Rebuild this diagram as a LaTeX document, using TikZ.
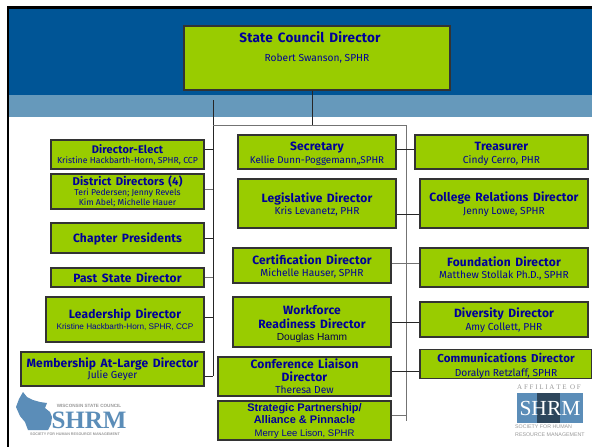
\documentclass[tikz,border=0pt]{standalone}
\usepackage{fontspec}
\setmainfont{Fira Sans}
\newfontfamily\headfont[LetterSpace=1.5,WordSpace=1.5]{Fira Sans}
\newfontfamily\plainfont{Liberation Sans}
\newfontfamily\logofont{Liberation Serif}
\definecolor{boardgreen}{HTML}{99CC00}
\definecolor{boardink}{HTML}{000099}
\definecolor{bandblue}{HTML}{005596}
\definecolor{paleblue}{HTML}{6699BB}
\definecolor{logoblue}{HTML}{5B8DB8}
\tikzset{
    orgbox/.style={draw=black!80, line width=1.1pt, fill=boardgreen, text=boardink, align=center, inner sep=0pt, font=\fontsize{10.2}{12.5}\selectfont},
    link/.style={draw=black!85, line width=0.9pt},
    palelink/.style={draw=black!55, line width=1pt},
    logotext/.style={text=black!40, inner sep=0pt},
}
\newcommand{\head}[2][12]{{\headfont\bfseries\fontsize{#1}{#1}\selectfont #2}}
\newcommand{\lift}[1][11.5pt]{\rule{0pt}{#1}}
\begin{document}
\begin{tikzpicture}[x=1pt,y=-1pt]
    \useasboundingbox (0,0) rectangle (592,447);
    % page
    \fill[white] (0,0) rectangle (592,447);
    \fill[bandblue] (8,8) rectangle (592,95);
    \fill[paleblue] (8,95) rectangle (592,117);
    \draw[black, line width=2.5pt] (8,447) -- (8,7.5) -- (592,7.5);

    % lines
    \coordinate (lefttop) at (213,100);
    \coordinate (leftend) at (213,376);
    \coordinate (corner) at (406,125);
    \coordinate (rightend) at (406,421);
    \coordinate (midjoin) at (312,125);

    % top
    \node[orgbox, minimum width=266, minimum height=64] (chair) at (317,58) {\head[13.5]{State Council Director}\hspace*{14pt}\\[6.5pt]Robert Swanson, SPHR\hspace*{14pt}\\[10.5pt]~};

    % left column
    \node[orgbox, minimum width=153, minimum height=29] (elect) at (127.5,154.5) {\head[11]{Director-Elect}\\[-2.5pt]{\fontsize{8.7}{10}\selectfont Kristine Hackbarth-Horn, SPHR, CCP}};
    \node[orgbox, minimum width=153, minimum height=35] (district) at (127.5,191.5) {\head[11.3]{District Directors (4)}\\[-3pt]{\fontsize{8.6}{10}\selectfont Teri Pedersen; Jenny Revels}\\[-2pt]{\fontsize{8.6}{10}\selectfont Kim Abel; Michelle Hauer}};
    \node[orgbox, minimum width=153, minimum height=30] (chapter) at (127.5,238) {\lift\head{Chapter Presidents}};
    \node[orgbox, minimum width=153, minimum height=19] (past) at (127.5,277.5) {\head{Past State Director}};
    \node[orgbox, minimum width=158, minimum height=45] (leader) at (125,319.5) {\head{Leadership Director}\\[-1pt]{\plainfont\fontsize{8.2}{10}\selectfont Kristine Hackbarth-Horn, SPHR, CCP}};
    \node[orgbox, minimum width=183, minimum height=34] (member) at (112.5,369) {\head{Membership At-Large Director}\\[-2pt]Julie Geyer};

    % middle column
    \node[orgbox, minimum width=158, minimum height=34] (secretary) at (317,152) {\lift[12pt]\head{Secretary}\\{\fontsize{9.8}{12}\selectfont Kellie Dunn-Poggemann,,SPHR}};
    \node[orgbox, minimum width=158, minimum height=49] (legis) at (317,203.5) {\lift\head{Legislative Director}\\Kris Levanetz, PHR};
    \node[orgbox, minimum width=158, minimum height=35] (cert) at (312,265.5) {\lift\head{Certification Director}\\Michelle Hauser, SPHR};
    \node[orgbox, minimum width=158, minimum height=50] (work) at (312,322) {\lift[13pt]\head{Workforce}\\[2pt]\head{Readiness Director}\\[-1pt]{\plainfont\color{black!50!boardink}Douglas Hamm}};
    \node[orgbox, minimum width=173, minimum height=39] (liaison) at (304.5,376.5) {\head{Conference Liaison}\\\head{Director}\\Theresa Dew};
    \node[orgbox, minimum width=173, minimum height=39, font=\plainfont\fontsize{9.5}{12.5}\selectfont] (strategic) at (304.5,420.5) {{\fontsize{11}{14}\selectfont\bfseries Strategic Partnership/}\\{\fontsize{11}{14}\selectfont\bfseries Alliance \& Pinnacle}\\Merry Lee Lison, SPHR};

    % right column
    \node[orgbox, minimum width=173, minimum height=34] (treasurer) at (501.5,152) {\lift[12pt]\head{Treasurer}\\Cindy Cerro, PHR};
    \node[orgbox, minimum width=168, minimum height=49] (college) at (504,203.5) {\lift\head{College Relations Director}\\Jenny Lowe, SPHR};
    \node[orgbox, minimum width=168, minimum height=39] (found) at (504,267.5) {\lift\head{Foundation Director}\\Matthew Stollak Ph.D., SPHR};
    \node[orgbox, minimum width=168, minimum height=35] (diverse) at (504,319.5) {\lift\head{Diversity Director}\\Amy Collett, PHR};
    \node[orgbox, minimum width=172, minimum height=24] (comms) at (506,364) {\lift[13pt]\head[11.5]{Communications Director}\\[1pt]Doralyn Retzlaff, SPHR};

    \draw[link] (lefttop) -- (leftend);
    \draw[palelink] (lefttop |- corner) -- (corner) -- (rightend);
    \draw[link] (chair.south -| midjoin) -- (midjoin);
    \draw[link] ([yshift=5.5pt]elect.east) -- ([yshift=5.5pt]elect.east -| lefttop);
    \draw[palelink] ([yshift=2.5pt]district.east) -- ([yshift=2.5pt]district.east -| lefttop);
    \draw[link] (chapter.east) -- (chapter.east -| lefttop);
    \draw[palelink] (past.east) -- (past.east -| lefttop);
    \draw[link] ([yshift=2.5pt]leader.east) -- ([yshift=2.5pt]leader.east -| lefttop);
    \draw[link] ([yshift=-7pt]member.east) -- (leftend);
    \draw[link] ([yshift=3pt]secretary.east) -- ([yshift=3pt]treasurer.west);
    \draw[link] ([yshift=-10.5pt]legis.east) -- ([yshift=-10.5pt]college.west);
    \draw[palelink] ([yshift=2.5pt]cert.east) -- ([yshift=2.5pt]cert.east -| found.west);
    \draw[link] (work.east) -- (work.east -| diverse.west);
    \draw[link] ([yshift=5.5pt]liaison.east) -- ([yshift=5.5pt]liaison.east -| comms.west);
    \draw[palelink] ([yshift=5.5pt]strategic.east) -- ([yshift=5.5pt]strategic.east -| rightend);

    % logos
    \fill[logoblue] (16,407) -- (19,399) -- (23,392) -- (27,397) -- (33,400) -- (40,402) -- (47,403) -- (45,408) -- (50,412) -- (52,417) -- (51,424) -- (48,430) -- (28,430) -- (25,422) -- (20,416) -- cycle;
    \node[font=\logofont\bfseries\fontsize{25}{25}\selectfont, text=logoblue, inner sep=0pt] (shrmleft) at (89,420) {SHRM};
    \node[logotext, font=\plainfont\bfseries\fontsize{4.6}{5}\selectfont] (councilname) at (89,405.5) {WISCONSIN STATE COUNCIL};
    \node[logotext, font=\plainfont\bfseries\fontsize{3.7}{4}\selectfont] (societyleft) at (75,434) {SOCIETY FOR HUMAN RESOURCE MANAGEMENT};
    \node[logotext, font=\logofont\fontsize{7}{7}\selectfont] (affiliate) at (549,387) {A F F I L I A T E\ \ O F};
    \fill[logoblue] (517,393) rectangle (583,423);
    \fill[black!50!logoblue] (537,393) rectangle (560,423);
    \node[font=\logofont\fontsize{21.5}{21.5}\selectfont, text=white, inner sep=0pt] (shrmright) at (550,408) {SHRM};
    \node[logotext, font=\plainfont\fontsize{5.3}{8}\selectfont, align=left, anchor=west] (societyright) at (515,431) {SOCIETY FOR HUMAN\\RESOURCE MANAGEMENT};
\end{tikzpicture}
\end{document}
